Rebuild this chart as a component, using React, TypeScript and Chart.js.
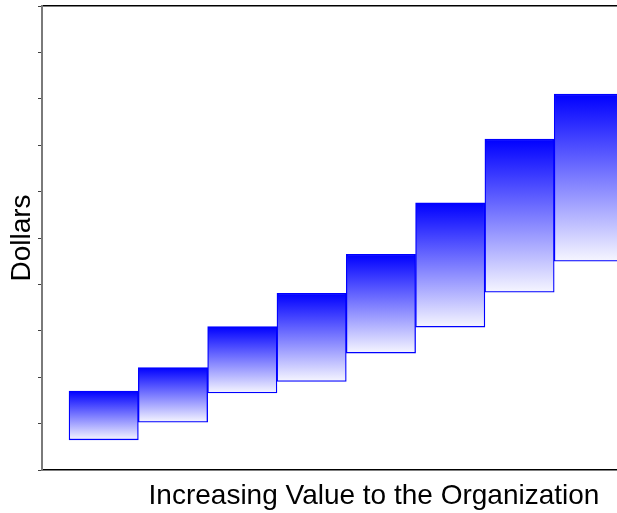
import React, { useEffect, useRef } from "react";
import { Chart, registerables } from "chart.js";

Chart.register(...registerables);

// Step positions along the "value" axis
const xPositions = [1, 2, 3, 4, 5, 6, 7, 8];
// Floating bar ranges (Dollars, arbitrary 0-10 scale)
const barStarts = [0.65, 1.03, 1.66, 1.91, 2.52, 3.08, 3.83, 4.5];
const barEnds = [1.7, 2.21, 3.09, 3.81, 4.65, 5.76, 7.13, 8.1];
const yTicks = [0, 1, 2, 3, 4, 5, 6, 7, 8, 9, 10];

const xTitle = "Increasing Value to the Organization";
const yTitle = "Dollars";

const FONT = "'Liberation Sans', Arial, Helvetica, sans-serif";

export default function App() {
  const ref = useRef<HTMLCanvasElement | null>(null);

  useEffect(() => {
    if (!ref.current) return;
    const data = xPositions.map((x, i) => ({ x, y: [barStarts[i], barEnds[i]] }));
    const chart = new Chart(ref.current, {
      type: "bar",
      data: {
        datasets: [
          {
            data: data as any,
            backgroundColor: (ctx: any) => {
              const ch = ctx.chart;
              if (!ch.chartArea || ctx.type !== "data" || !ctx.raw) return "#0000ff";
              const raw = ctx.raw.y as number[];
              const yS = ch.scales.y;
              const top = yS.getPixelForValue(Math.max(raw[0], raw[1]));
              const bottom = yS.getPixelForValue(Math.min(raw[0], raw[1]));
              const g = ch.ctx.createLinearGradient(0, top, 0, bottom);
              g.addColorStop(0, "#0000ff");
              g.addColorStop(1, "#f6f6ff");
              return g;
            },
            borderColor: "#0000ff",
            borderWidth: 1.3,
            borderSkipped: false,
            barPercentage: 1,
            categoryPercentage: 1,
          },
        ],
      },
      options: {
        animation: false,
        responsive: true,
        maintainAspectRatio: false,
        layout: { padding: { top: 6, left: 0, right: 0, bottom: 0 } },
        plugins: { legend: { display: false }, tooltip: { enabled: false } },
        scales: {
          x: {
            type: "linear",
            position: "bottom",
            min: 0.11,
            max: 9.69,
            offset: false,
            afterBuildTicks: (s: any) => {
              s.ticks = xPositions.map((v) => ({ value: v }));
            },
            afterFit: (s: any) => {
              s.height = 43;
            },
            ticks: { display: false },
            grid: { display: false, drawTicks: false },
            border: { display: true, color: "#000000", width: 1.5 },
            title: {
              display: true,
              text: xTitle,
              color: "#000000",
              font: { family: FONT, size: 28 },
              padding: { top: 0, bottom: 0 },
            },
          },
          x2: {
            type: "linear",
            position: "top",
            afterFit: (s: any) => {
              s.height = 0;
            },
            ticks: { display: false },
            grid: { display: false, drawTicks: false },
            border: { display: true, color: "#000000", width: 1.5 },
          },
          y: {
            type: "linear",
            min: 0,
            max: 10,
            afterBuildTicks: (s: any) => {
              s.ticks = yTicks.map((v) => ({ value: v }));
            },
            afterFit: (s: any) => {
              s.width = 42;
            },
            ticks: { display: false },
            grid: {
              display: true,
              drawOnChartArea: false,
              drawTicks: true,
              tickLength: 4,
              color: "#404040",
              lineWidth: 1,
            },
            border: { display: true, color: "#7a7a7a", width: 2 },
            title: {
              display: true,
              text: yTitle,
              color: "#000000",
              font: { family: FONT, size: 28 },
              padding: { top: 5, bottom: 0 },
            },
          },
        },
      },
    });
    return () => chart.destroy();
  }, []);

  return (
    <div
      style={{
        position: "fixed",
        left: 0,
        top: 0,
        width: 617,
        height: 513,
        overflow: "hidden",
        background: "#ffffff",
      }}
    >
      <div style={{ position: "relative", width: 706, height: 513 }}>
        <canvas ref={ref} />
      </div>
    </div>
  );
}
